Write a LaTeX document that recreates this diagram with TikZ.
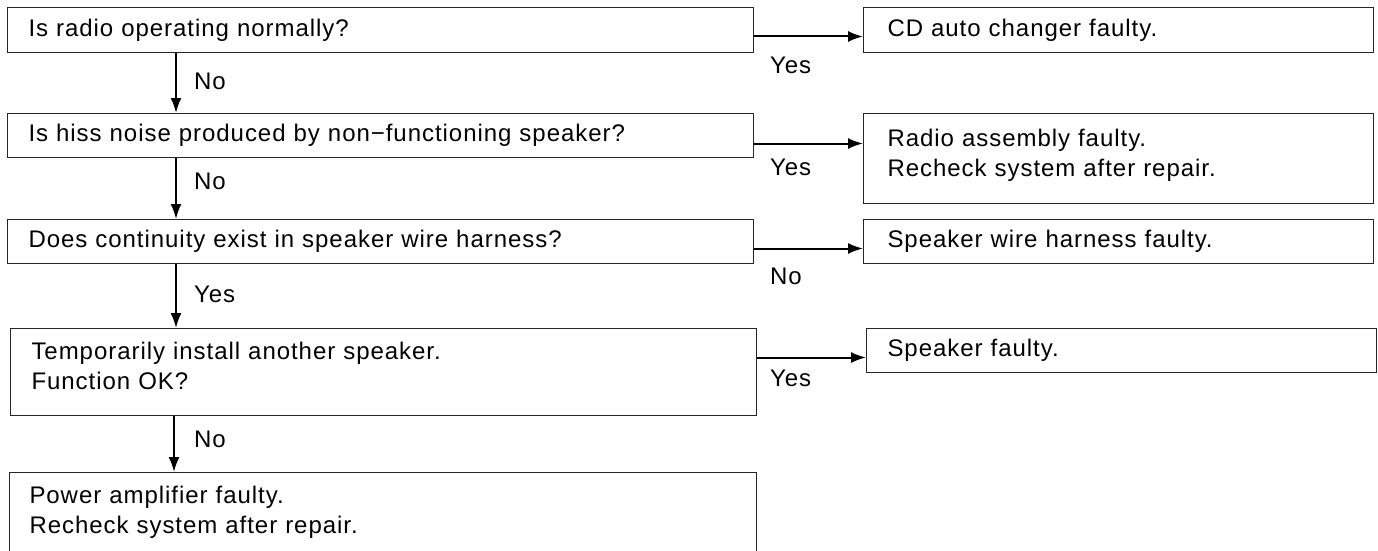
\documentclass[tikz,border=0pt]{standalone}
\usepackage{fontspec}
\setmainfont{Liberation Sans}[WordSpace=1.6, LetterSpace=4]
\usetikzlibrary{arrows.meta}
\tikzset{
	qbox/.style={draw=black!85, line width=1pt, anchor=north west, align=left, inner xsep=21pt, inner ysep=0pt, text width=704pt},
	abox/.style={draw=black!85, line width=1pt, anchor=north west, align=left, inner xsep=24pt, inner ysep=0pt, text width=462pt},
	arr/.style={line width=2pt, -{Latex[length=15pt,width=11pt]}},
	lbl/.style={anchor=west, inner sep=0pt}
}
\begin{document}
\begin{tikzpicture}[x=1pt, y=-1pt, font=\fontsize{24}{30}\selectfont]
	\useasboundingbox (0,0) rectangle (1378,551);
	\node[qbox, minimum height=45pt] (q1) at (7,7) {Is radio operating normally?};
	\node[qbox, minimum height=44pt] (q2) at (7,113) {Is hiss noise produced by non−functioning speaker?};
	\node[qbox, minimum height=44pt] (q3) at (7,219) {Does continuity exist in speaker wire harness?};
	\node[qbox, minimum height=87pt, text depth=42pt] (q4) at (10,328) {Temporarily install another speaker.\\Function OK?};
	\node[qbox, minimum height=82pt, text depth=38pt, inner xsep=20pt, text width=707pt] (q5) at (9,472) {Power amplifier faulty.\\Recheck system after repair.};
	\node[abox, minimum height=45pt] (r1) at (863,7) {CD auto changer faulty.};
	\node[abox, minimum height=90pt, text depth=42pt] (r2) at (863,113) {Radio assembly faulty.\\Recheck system after repair.};
	\node[abox, minimum height=44pt] (r3) at (863,219) {Speaker wire harness faulty.};
	\node[abox, minimum height=44pt, inner xsep=21pt, text width=468pt] (r4) at (866,328) {Speaker faulty.};
	% down the left column
	\draw[arr] ([xshift=169pt]q1.south west) -- node[lbl, pos=0, xshift=17pt, yshift=-28pt] {No} ([xshift=169pt]q2.north west);
	\draw[arr] ([xshift=169pt]q2.south west) -- node[lbl, pos=0, xshift=17pt, yshift=-23pt] {No} ([xshift=169pt]q3.north west);
	\draw[arr] ([xshift=169pt]q3.south west) -- node[lbl, pos=0, xshift=17pt, yshift=-30pt] {Yes} ([xshift=166pt]q4.north west);
	\draw[arr] ([xshift=164pt]q4.south west) -- node[lbl, pos=0, xshift=19pt, yshift=-23pt] {No} ([xshift=165pt]q5.north west);
	% across to the right column
	\draw[arr] ([yshift=-6.5pt]q1.east) -- node[lbl, pos=0, xshift=15pt, yshift=-29pt] {Yes} ([yshift=-6.5pt]r1.west);
	\draw[arr] ([yshift=-8pt]q2.east) -- node[lbl, pos=0, xshift=15pt, yshift=-24pt] {Yes} ([yshift=15pt]r2.west);
	\draw[arr] ([yshift=-7pt]q3.east) -- node[lbl, pos=0, xshift=15pt, yshift=-28pt] {No} ([yshift=-7pt]r3.west);
	\draw[arr] ([yshift=14.5pt]q4.east) -- node[lbl, pos=0, xshift=12pt, yshift=-21pt] {Yes} ([yshift=-7pt]r4.west);
\end{tikzpicture}
\end{document}
